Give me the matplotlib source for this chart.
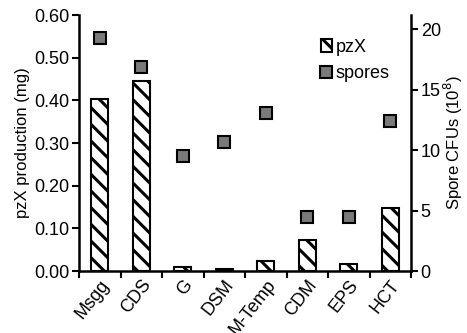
import numpy as np
import matplotlib.pyplot as plt
from matplotlib.patches import Patch
from matplotlib.lines import Line2D

plt.rcParams['font.family'] = ['Liberation Sans', 'DejaVu Sans']
plt.rcParams['hatch.linewidth'] = 2.2

media = ['Msgg', 'CDS', 'G', 'DSM', 'M-Temp', 'CDM', 'EPS', 'HCT']
pzx = [0.403, 0.445, 0.009, 0.005, 0.023, 0.073, 0.016, 0.148]
spores = [19.3, 16.9, 9.5, 10.7, 13.1, 4.5, 4.45, 12.4]

fig = plt.figure(figsize=(4.67, 3.33), dpi=100)
ax = fig.add_axes([79 / 467, 62 / 333, 332 / 467, 256 / 333])
x = np.arange(len(media))

ax.bar(x, pzx, width=0.42, color='white', edgecolor='black', hatch='\\\\', linewidth=1.5)
ax.set_xlim(-0.5, len(media) - 0.5)
ax.set_ylim(0, 0.6)
ax.set_yticks(np.arange(0, 0.61, 0.1))
ax.set_yticklabels(['%.2f' % v for v in np.arange(0, 0.61, 0.1)], fontsize=13)
ax.set_ylabel('pzX production (mg)', fontsize=12, labelpad=3)
ax.set_xticks(x)
ax.set_xticklabels(media, rotation=52, ha='right', rotation_mode='anchor', fontsize=13)
ax.tick_params(axis='x', length=0, pad=4)
ax.set_xticks(np.arange(-0.5, len(media)), minor=True)
ax.tick_params(axis='x', which='minor', length=5, width=1.5, direction='out')
ax.tick_params(axis='y', length=5, width=1.5, direction='out', pad=2)
ax.spines['top'].set_visible(False)
ax.spines['right'].set_visible(False)
for s in ['left', 'bottom']:
    ax.spines[s].set_linewidth(1.8)

ax2 = ax.twinx()
ax2.plot(x, spores, 's', color='#7a7a7a', markeredgecolor='black', markeredgewidth=1.5, markersize=8)
ax2.set_ylim(0, 21.16)
ax2.set_yticks([0, 5, 10, 15, 20])
ax2.tick_params(axis='y', length=5, width=1.5, direction='out', labelsize=13, pad=2)
ax2.set_ylabel('Spore CFUs (10$^8$)', fontsize=12, labelpad=1)
ax2.spines['top'].set_visible(False)
ax2.spines['left'].set_visible(False)
ax2.spines['bottom'].set_visible(False)
ax2.spines['right'].set_linewidth(1.8)

handles = [Patch(facecolor='white', edgecolor='black', hatch='\\\\', linewidth=1.5),
           Line2D([], [], marker='s', linestyle='none', color='#7a7a7a', markeredgecolor='black',
                  markeredgewidth=1.5, markersize=8)]
ax2.legend(handles, ['pzX', 'spores'], loc='upper left', bbox_to_anchor=(0.68, 0.97), frameon=False,
           fontsize=13, handlelength=0.6, handletextpad=0.2, labelspacing=0.5)

fig.savefig('out.png', dpi=100)
